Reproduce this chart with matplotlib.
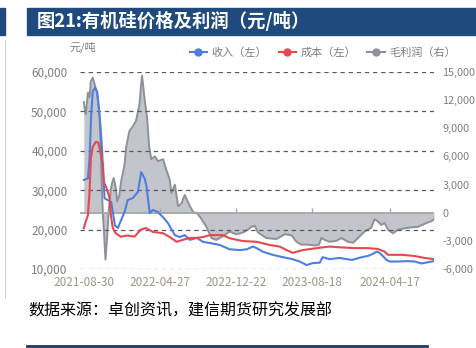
import matplotlib
matplotlib.use("Agg")
import matplotlib.pyplot as plt
import pandas as pd
from matplotlib.ticker import FuncFormatter
from matplotlib.patches import Rectangle
from matplotlib.lines import Line2D

plt.rcParams['font.family'] = ['Noto Sans CJK SC', 'DejaVu Sans']

# 收入（左轴，元/吨）
rev_dates = ["2021-08-30", "2021-09-12", "2021-09-17", "2021-09-22", "2021-09-27", "2021-10-04",
             "2021-10-11", "2021-10-15", "2021-10-21", "2021-10-26", "2021-10-30", "2021-11-03",
             "2021-11-13", "2021-11-24", "2021-11-29", "2021-12-06", "2021-12-15", "2021-12-25",
             "2022-01-05", "2022-01-15", "2022-01-31", "2022-02-16", "2022-02-26", "2022-03-09",
             "2022-03-15", "2022-03-25", "2022-04-04", "2022-04-19", "2022-05-05", "2022-05-21",
             "2022-06-02", "2022-06-12", "2022-06-27", "2022-07-13", "2022-07-29", "2022-08-20",
             "2022-09-08", "2022-09-30", "2022-10-31", "2022-12-01", "2023-01-02", "2023-01-24",
             "2023-02-12", "2023-02-24", "2023-03-15", "2023-04-15", "2023-05-17", "2023-06-17",
             "2023-07-09", "2023-07-31", "2023-08-19", "2023-09-10", "2023-09-19", "2023-10-11",
             "2023-11-12", "2023-12-20", "2024-01-20", "2024-02-08", "2024-02-23", "2024-03-07",
             "2024-03-16", "2024-03-26", "2024-04-07", "2024-04-17", "2024-05-12", "2024-06-12",
             "2024-07-04", "2024-07-26", "2024-08-14", "2024-09-02"]
rev_vals = [32600, 33000, 38000, 49000, 55000, 56000,
            55000, 52000, 46600, 40700, 34000, 28000,
            27500, 27000, 24500, 21000, 20400, 22400,
            24500, 27500, 28000, 29600, 34600, 33000,
            30900, 24200, 25000, 24500, 23200, 21700,
            20000, 18600, 18100, 18600, 17400, 17900,
            16900, 16600, 16100, 15000, 14800, 15000,
            15700, 15300, 14400, 13600, 13000, 12500,
            11900, 11000, 11500, 11600, 13000, 12500,
            12800, 12300, 13000, 13300, 13800, 14400,
            14100, 13300, 12300, 11900, 11900, 12000,
            11900, 11400, 11700, 12000]

# 成本（左轴，元/吨）
cost_dates = ["2021-08-30", "2021-09-05", "2021-09-12", "2021-09-17", "2021-09-21", "2021-09-27",
              "2021-10-07", "2021-10-15", "2021-10-21", "2021-10-29", "2021-11-01", "2021-11-07",
              "2021-11-13", "2021-11-19", "2021-11-23", "2021-11-29", "2021-12-08", "2021-12-24",
              "2022-01-15", "2022-02-05", "2022-02-25", "2022-03-13", "2022-04-04", "2022-05-05",
              "2022-05-27", "2022-06-18", "2022-07-07", "2022-07-29", "2022-08-20", "2022-09-08",
              "2022-09-30", "2022-11-10", "2022-12-01", "2023-01-11", "2023-02-24", "2023-04-06",
              "2023-05-07", "2023-05-29", "2023-06-17", "2023-07-19", "2023-09-01", "2023-10-11",
              "2023-11-12", "2023-12-29", "2024-02-08", "2024-03-10", "2024-04-01", "2024-04-11",
              "2024-05-25", "2024-07-04", "2024-08-05", "2024-09-02"]
cost_vals = [20400, 22000, 23700, 29600, 38000, 41000,
             42300, 42000, 39700, 36400, 32000, 31000,
             29600, 28000, 23700, 20400, 19100, 18200,
             18500, 18200, 20000, 20400, 19400, 19100,
             18100, 16900, 17400, 17900, 17900, 18100,
             18600, 18600, 17800, 17100, 16900, 16100,
             15700, 14800, 14100, 14800, 15300, 15700,
             15500, 15300, 15300, 15100, 14400, 13600,
             13600, 13300, 12800, 12500]

# 毛利润（右轴，元/吨）
gp_dates = ["2021-08-30", "2021-09-02", "2021-09-05", "2021-09-12", "2021-09-17", "2021-09-21",
            "2021-09-27", "2021-10-03", "2021-10-10", "2021-10-18", "2021-10-22", "2021-10-26",
            "2021-10-29", "2021-11-03", "2021-11-06", "2021-11-11", "2021-11-16", "2021-11-22",
            "2021-11-27", "2021-12-02", "2021-12-08", "2021-12-13", "2021-12-20", "2021-12-25",
            "2022-01-05", "2022-01-10", "2022-01-20", "2022-01-31", "2022-02-10", "2022-02-21",
            "2022-02-26", "2022-03-01", "2022-03-09", "2022-03-17", "2022-03-23", "2022-03-30",
            "2022-04-10", "2022-04-20", "2022-05-06", "2022-05-16", "2022-05-27", "2022-06-01",
            "2022-06-12", "2022-06-22", "2022-07-03", "2022-07-13", "2022-07-29", "2022-08-10",
            "2022-08-20", "2022-09-04", "2022-09-19", "2022-10-05", "2022-10-20", "2022-11-10",
            "2022-12-01", "2022-12-22", "2023-01-12", "2023-01-28", "2023-02-07", "2023-02-18",
            "2023-02-28", "2023-03-26", "2023-04-27", "2023-05-23", "2023-06-13", "2023-06-29",
            "2023-07-14", "2023-08-04", "2023-08-25", "2023-09-08", "2023-09-15", "2023-09-26",
            "2023-10-11", "2023-11-01", "2023-11-17", "2023-12-08", "2023-12-24", "2024-01-08",
            "2024-01-29", "2024-02-19", "2024-02-29", "2024-03-10", "2024-03-21", "2024-04-01",
            "2024-04-11", "2024-04-27", "2024-05-13", "2024-06-13", "2024-07-15", "2024-08-10",
            "2024-08-26", "2024-09-03"]
gp_vals = [11800, 11000, 10500, 12800, 12300, 14000,
           14400, 13700, 12800, 10500, 7000, 2300,
           -200, -3100, -5000, -2700, 100, 2300,
           3200, 3700, 2700, 1200, 1900, 3300,
           5100, 7000, 8700, 9200, 9800, 11600,
           13700, 14600, 12100, 10000, 7100, 5700,
           6000, 5500, 5700, 4600, 3500, 2100,
           3000, 700, 1000, 1900, 700, 0,
           0, -700, -1500, -2700, -2900, -2500,
           -2000, -2300, -2100, -1800, -1500, -1400,
           -2100, -2700, -2800, -2300, -2400, -3100,
           -3400, -3400, -3500, -3400, -2700, -2900,
           -3100, -3000, -2700, -3100, -3200, -2700,
           -2000, -1600, -700, -900, -1300, -1100,
           -1800, -2200, -1800, -1600, -1500, -1100,
           -900, -700]

tick_labels = ["2021-08-30", "2022-04-27", "2022-12-22", "2023-08-18", "2024-04-17"]
left_ticks = [10000, 20000, 30000, 40000, 50000, 60000]
right_ticks = [-6000, -3000, 0, 3000, 6000, 9000, 12000, 15000]
series_names = ["收入（左）", "成本（左）", "毛利润（右）"]

rev_dates = pd.to_datetime(rev_dates)
cost_dates = pd.to_datetime(cost_dates)
gp_dates = pd.to_datetime(gp_dates)
tick_dates = pd.to_datetime(tick_labels)

BLUE = "#4d7fdf"
RED = "#e8474f"
GREY_LINE = "#8e9198"
GREY_FILL = "#c2c5cc"
TXT = "#7f7f7f"

fig = plt.figure(figsize=(4.76, 3.48), dpi=100)
W, H = 476, 348

# header bar + neighbouring panel edge
fig.patches.append(Rectangle((27 / W, 1 - 35 / H), 1 - 27 / W, 27 / H,
                             transform=fig.transFigure, color="#1f4a7e", zorder=0))
fig.patches.append(Rectangle((0, 1 - 35 / H), 5 / W, 27 / H,
                             transform=fig.transFigure, color="#1f4a7e", zorder=0))
fig.lines.append(Line2D([5 / W, 5 / W], [1 - 298 / H, 1 - 40 / H],
                        transform=fig.transFigure, color="#cfcfcf", lw=0.8))
fig.lines.append(Line2D([27 / W, 427 / W], [1 - 346 / H, 1 - 346 / H],
                        transform=fig.transFigure, color="#1f3864", lw=2))
fig.text(37 / W, 1 - 21 / H, "图21:有机硅价格及利润（元/吨）", color="white",
         fontsize=13.2, fontweight="bold", va="center", ha="left")

ax = fig.add_axes([80 / W, 79 / H, 354 / W, 197 / H])
ax2 = ax.twinx()

# gross profit area on the right axis
ax2.fill_between(gp_dates, gp_vals, 0, color=GREY_FILL, lw=0)
ax2.plot(gp_dates, gp_vals, color=GREY_LINE, lw=1.4)
ax2.axhline(0, color="#a6a6a6", lw=1.3)
ax2.vlines(tick_dates[1:], 0, 450, color="#a6a6a6", lw=1)
ax2.set_ylim(-6000, 15000)
ax2.set_yticks(right_ticks)

# price lines drawn above the area
ax.set_zorder(ax2.get_zorder() + 1)
ax.patch.set_visible(False)
ax.plot(rev_dates, rev_vals, color=BLUE, lw=1.5)
ax.plot(cost_dates, cost_vals, color=RED, lw=1.5)
ax.set_ylim(10000, 60000)
ax.set_yticks(left_ticks)
ax.yaxis.grid(True, linestyle=(0, (3.5, 3)), color="#5a5a5a", lw=0.9)
ax.set_xlim(rev_dates[0] - pd.Timedelta(days=12), gp_dates[-1])
ax.set_xticks(tick_dates)
ax.set_xticklabels(tick_labels)

fmt = FuncFormatter(lambda v, _: f"{int(v):,}")
ax.yaxis.set_major_formatter(fmt)
ax2.yaxis.set_major_formatter(fmt)

for a in (ax, ax2):
    for s in a.spines.values():
        s.set_visible(False)
ax.tick_params(axis="y", length=0, pad=9, labelsize=8.5, labelcolor=TXT)
ax2.tick_params(axis="y", length=0, pad=6, labelsize=7.8, labelcolor=TXT)
ax.tick_params(axis="x", length=0, pad=5, labelsize=8.5, labelcolor="#a09585")

fig.text(70 / W, 1 - 47 / H, "元/吨", color=TXT, fontsize=8, va="center", ha="left")

handles = [Line2D([], [], color=BLUE, lw=1.5, marker="o", markersize=5),
           Line2D([], [], color=RED, lw=1.5, marker="o", markersize=5),
           Line2D([], [], color=GREY_LINE, lw=1.5, marker="o", markersize=5)]
fig.legend(handles, series_names, loc="center", bbox_to_anchor=(323 / W, 1 - 53 / H),
           ncol=3, frameon=False, fontsize=8, handlelength=1.6, handletextpad=0.4,
           columnspacing=1.0, labelcolor=TXT)

fig.text(28 / W, 1 - 311 / H, "数据来源：卓创资讯，建信期货研究发展部", color="black",
         fontsize=11.5, style="italic", va="center", ha="left")

fig.savefig("out.png", dpi=100)
